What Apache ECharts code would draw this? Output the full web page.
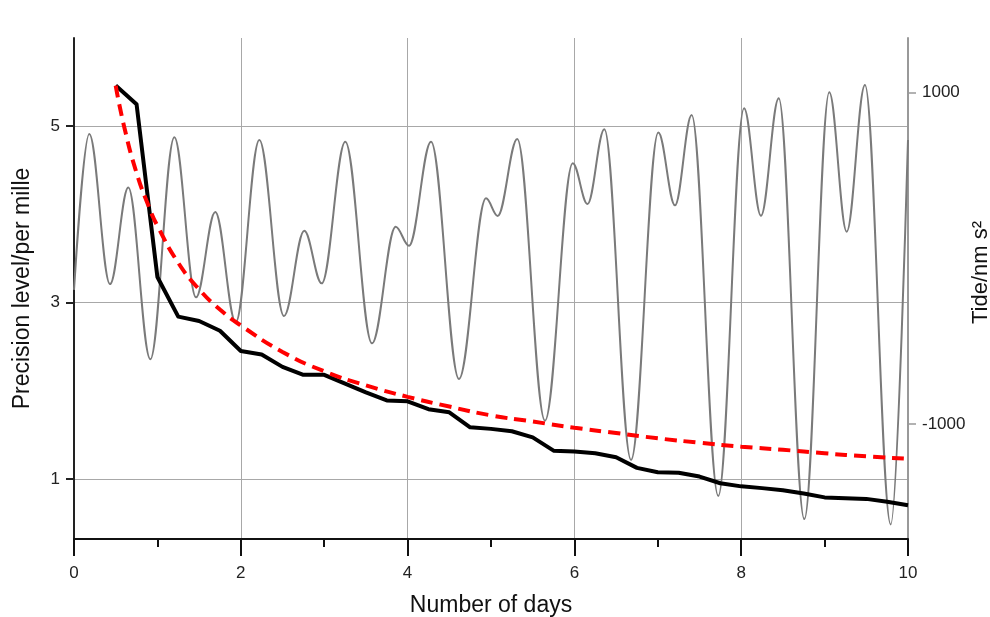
<!DOCTYPE html>
<html>
<head>
<meta charset="utf-8">
<script src="https://cdn.jsdelivr.net/npm/echarts@6/dist/echarts.min.js"></script>
<style>html,body{margin:0;padding:0;background:#fff}#c{width:990px;height:617px}</style>
</head>
<body>
<div id="c"></div>
<script>
// Tide (right axis), read at the extrema of the grey curve
const tideDays = [0, 0.183, 0.432, 0.651, 0.915, 1.203, 1.463, 1.694, 1.939, 2.222, 2.518, 2.761, 2.970, 3.253, 3.573, 3.857, 4.017, 4.281, 4.616, 4.940, 5.080, 5.315, 5.647, 5.980, 6.157, 6.359, 6.679, 7.006, 7.206, 7.406, 7.725, 8.034, 8.237, 8.450, 8.757, 9.056, 9.265, 9.484, 9.793, 10.0];
const tideValues = [-190, 751, -155, 427, -609, 731, -235, 280, -386, 714, -348, 167, -151, 704, -513, 191, 76, 704, -728, 362, 256, 720, -980, 574, 328, 779, -1217, 759, 320, 865, -1435, 906, 257, 966, -1574, 1002, 161, 1046, -1606, 714];

// Precision level (black line)
const precDays = [0.5, 0.75, 1, 1.25, 1.5, 1.75, 2, 2.25, 2.5, 2.75, 3, 3.25, 3.5, 3.75, 4, 4.25, 4.5, 4.75, 5, 5.25, 5.5, 5.75, 6, 6.25, 6.5, 6.75, 7, 7.25, 7.5, 7.75, 8, 8.25, 8.5, 8.75, 9, 9.25, 9.5, 9.75, 10];
const precValues = [5.46, 5.25, 3.29, 2.84, 2.79, 2.68, 2.45, 2.41, 2.27, 2.18, 2.18, 2.08, 1.98, 1.89, 1.88, 1.79, 1.755, 1.585, 1.567, 1.54, 1.47, 1.32, 1.31, 1.29, 1.245, 1.125, 1.075, 1.07, 1.026, 0.95, 0.915, 0.895, 0.87, 0.835, 0.79, 0.78, 0.773, 0.74, 0.70];

// Model curve (red dashed)
const modelDays = [0.5, 0.6, 0.75, 0.9, 1.0, 1.25, 1.5, 1.75, 2.0, 2.5, 3.0, 3.5, 4.0, 4.5, 5.0, 5.5, 6.0, 6.5, 7.0, 7.5, 8.0, 8.5, 9.0, 9.5, 9.95];
const modelValues = [5.46, 5.0, 4.47, 4.08, 3.87, 3.45, 3.15, 2.92, 2.74, 2.44, 2.22, 2.06, 1.93, 1.82, 1.72, 1.65, 1.58, 1.52, 1.46, 1.41, 1.365, 1.33, 1.29, 1.255, 1.23];

// Axis ticks / labels
const xTickLabels = [0, 2, 4, 6, 8, 10];
const leftTicks = [1, 3, 5];
const rightTicks = [-1000, 1000];

const zip = (a, b) => a.map((v, i) => [v, b[i]]);
const FONT = "'Liberation Sans', Arial, sans-serif";

const chart = echarts.init(document.getElementById('c'), null, {renderer: 'canvas'});
chart.setOption({
  animation: false,
  backgroundColor: '#ffffff',
  grid: {left: 74, right: 82, top: 38, bottom: 78, containLabel: false, outerBoundsMode: 'none'},
  xAxis: {
    type: 'value', min: 0, max: 10, interval: 2,
    name: 'Number of days', nameLocation: 'middle', nameGap: 55, nameMoveOverlap: false,
    nameTextStyle: {fontFamily: FONT, fontSize: 23, color: '#111'},
    axisLine: {show: true, onZero: false, lineStyle: {color: '#111', width: 2}},
    axisTick: {show: true, length: 17, lineStyle: {color: '#111', width: 2}},
    minorTick: {show: true, splitNumber: 2, length: 8, lineStyle: {color: '#111', width: 2}},
    axisLabel: {fontFamily: FONT, fontSize: 17, color: '#222', margin: 26,
      formatter: v => xTickLabels.includes(v) ? String(v) : ''},
    splitLine: {show: true, lineStyle: {color: '#a8a8a8', width: 1}},
    minorSplitLine: {show: false}
  },
  yAxis: [{
    type: 'value', min: 0.318, max: 6, position: 'left',
    name: 'Precision level/per mille', nameLocation: 'middle', nameGap: 40, nameMoveOverlap: false,
    nameTextStyle: {fontFamily: FONT, fontSize: 23, color: '#111'},
    axisLine: {show: true, onZero: false, lineStyle: {color: '#222', width: 2}},
    axisTick: {show: true, length: 8, customValues: leftTicks, lineStyle: {color: '#222', width: 2}},
    axisLabel: {fontFamily: FONT, fontSize: 17, color: '#222', margin: 14, customValues: leftTicks},
    splitLine: {show: true, lineStyle: {color: '#a8a8a8', width: 1}}
  }, {
    type: 'value', min: -1694, max: 1330, position: 'right',
    name: 'Tide/nm s\u00B2', nameLocation: 'middle', nameGap: 62, nameMoveOverlap: false,
    nameTextStyle: {fontFamily: FONT, fontSize: 22, color: '#111', padding: [0, 0, 0, 32]},
    axisLine: {show: true, onZero: false, lineStyle: {color: '#999', width: 2}},
    axisTick: {show: true, length: 8, customValues: rightTicks, lineStyle: {color: '#999', width: 1.5}},
    axisLabel: {fontFamily: FONT, fontSize: 17, color: '#222', margin: 14, customValues: rightTicks,
      formatter: v => String(v)},
    splitLine: {show: false}
  }],
  series: [{
    name: 'Tide', type: 'line', yAxisIndex: 1,
    data: zip(tideDays, tideValues),
    smooth: 0.363, smoothMonotone: 'x', showSymbol: false, symbol: 'none',
    lineStyle: {color: '#7a7a7a', width: 2}, z: 2
  }, {
    name: 'Precision', type: 'line', yAxisIndex: 0,
    data: zip(precDays, precValues),
    showSymbol: false, symbol: 'none',
    lineStyle: {color: '#000', width: 4, join: 'round'}, z: 3
  }, {
    name: 'Model', type: 'line', yAxisIndex: 0,
    data: zip(modelDays, modelValues),
    smooth: true, showSymbol: false, symbol: 'none',
    lineStyle: {color: '#ff0000', width: 4, type: [12, 7]}, z: 4
  }]
});
</script>
</body>
</html>
